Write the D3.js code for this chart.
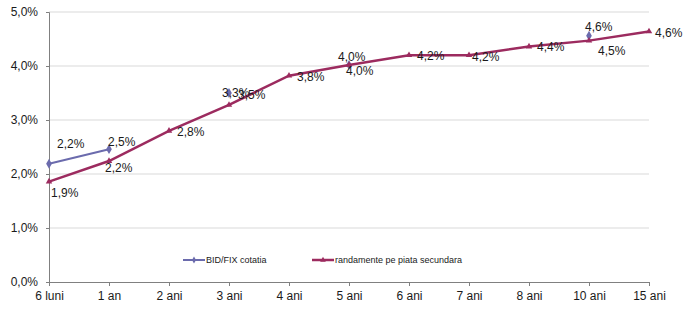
<!DOCTYPE html>
<html>
<head>
<meta charset="utf-8">
<script src="https://cdn.jsdelivr.net/npm/d3@7"></script>
<style>
  body { margin: 0; background: #fff; }
  text { font-family: "Liberation Sans", Arial, sans-serif; fill: #1a1a1a; }
</style>
</head>
<body>
<div id="chart"></div>
<script>
// Data
// ------------------------------------------------------------------
const maturities = ["6 luni", "1 an", "2 ani", "3 ani", "4 ani", "5 ani", "6 ani", "7 ani", "8 ani", "10 ani", "15 ani"];
// BID/FIX quotes (gaps where no quote)
const bidFix = [2.19, 2.46, null, 3.50, null, 4.02, null, null, null, 4.56, null];
// secondary market yields
const secondary = [1.86, 2.24, 2.80, 3.28, 3.82, 4.02, 4.20, 4.20, 4.36, 4.47, 4.64];
const yTicks = [0, 1, 2, 3, 4, 5];
const seriesNames = ["BID/FIX cotatia", "randamente pe piata secundara"];

// label placement (dx, dy from the point), style only
const bidLabelOff = [[8, -20], [-1, -7], null, [9, 2], null, [-11, -8], null, null, null, [-4, -9], null];
const secLabelOff = [[2, 11], [-4, 7], [8, 1], [-7, -12], [8, 1], [-3, 6], [8, 1], [3, 2], [8, 0], [9, 10], [6, 2]];

const W = 684, H = 309;
const blue = "#6B6BAD", red = "#9C2B5F";
const fmt = v => d3.format(".1f")(v).replace(".", ",") + "%";

const svg = d3.select("#chart").append("svg")
    .attr("width", W)
    .attr("height", H);

const x = d3.scalePoint().domain(maturities).range([49, 649]);
const y = d3.scaleLinear().domain([0, 5]).range([282, 12]);

// gridlines
svg.append("g")
    .selectAll("line")
    .data(yTicks.filter(d => d > 0))
    .join("line")
    .attr("x1", 49).attr("x2", 649)
    .attr("y1", d => y(d)).attr("y2", d => y(d))
    .style("stroke", "#d9d9d9")
    .style("stroke-width", 1);

// y axis
const yAxis = svg.append("g")
    .attr("transform", "translate(49,0)")
    .call(d3.axisLeft(y).tickValues(yTicks).tickSize(3).tickFormat(d => fmt(d)));
yAxis.select(".domain").style("stroke", "#808080");
yAxis.selectAll(".tick line").style("stroke", "#808080");
yAxis.selectAll("text").style("font-size", "12px").attr("x", -11);

// x axis
const xAxis = svg.append("g")
    .attr("transform", "translate(0,282)")
    .call(d3.axisBottom(x).tickSize(4).tickSizeOuter(0));
xAxis.select(".domain").style("stroke", "#808080");
xAxis.selectAll(".tick line").style("stroke", "#808080");
xAxis.selectAll("text").style("font-size", "12px").attr("y", 9);

// lines
const line = d3.line()
    .defined(d => d[1] != null)
    .x(d => x(d[0]))
    .y(d => y(d[1]));

const secPts = maturities.map((m, i) => [m, secondary[i], i]);
const bidPts = maturities.map((m, i) => [m, bidFix[i], i]);

const tri = d3.symbol().type(d3.symbolTriangle).size(18);
const dia = d3.symbol().type(d3.symbolDiamond).size(28);

// BID/FIX first, secondary market on top
svg.append("path")
    .datum(bidPts)
    .attr("d", line)
    .style("fill", "none")
    .style("stroke", blue)
    .style("stroke-width", 2);

svg.append("g")
    .selectAll("path")
    .data(bidPts.filter(d => d[1] != null))
    .join("path")
    .attr("d", dia)
    .attr("transform", d => `translate(${x(d[0])},${y(d[1])})`)
    .style("fill", blue);

svg.append("path")
    .datum(secPts)
    .attr("d", line)
    .style("fill", "none")
    .style("stroke", red)
    .style("stroke-width", 2.5);

svg.append("g")
    .selectAll("path")
    .data(secPts)
    .join("path")
    .attr("d", tri)
    .attr("transform", d => `translate(${x(d[0])},${y(d[1])})`)
    .style("fill", red);

// data labels
function labels(pts, offs) {
    svg.append("g")
        .selectAll("text")
        .data(pts.filter(d => d[1] != null && offs[d[2]]))
        .join("text")
        .attr("x", d => x(d[0]) + offs[d[2]][0])
        .attr("y", d => y(d[1]) + offs[d[2]][1])
        .attr("dominant-baseline", "central")
        .style("font-size", "12px")
        .text(d => fmt(d[1]));
}
labels(secPts, secLabelOff);
labels(bidPts, bidLabelOff);

// legend
const legend = svg.append("g").attr("transform", "translate(0,260)");
const legendItems = [
    { name: seriesNames[0], color: blue, type: d3.symbolDiamond, x0: 183, w: 2 },
    { name: seriesNames[1], color: red, type: d3.symbolTriangle, x0: 312, w: 2.5 }
];
legendItems.forEach(it => {
    legend.append("line")
        .attr("x1", it.x0).attr("x2", it.x0 + 22)
        .attr("y1", 0).attr("y2", 0)
        .style("stroke", it.color)
        .style("stroke-width", it.w);
    legend.append("path")
        .attr("d", d3.symbol().type(it.type).size(14))
        .attr("transform", `translate(${it.x0 + 11},0)`)
        .style("fill", it.color);
    legend.append("text")
        .attr("x", it.x0 + 23)
        .attr("y", 0)
        .attr("dominant-baseline", "central")
        .style("font-size", "9px")
        .text(it.name);
});
</script>
</body>
</html>
